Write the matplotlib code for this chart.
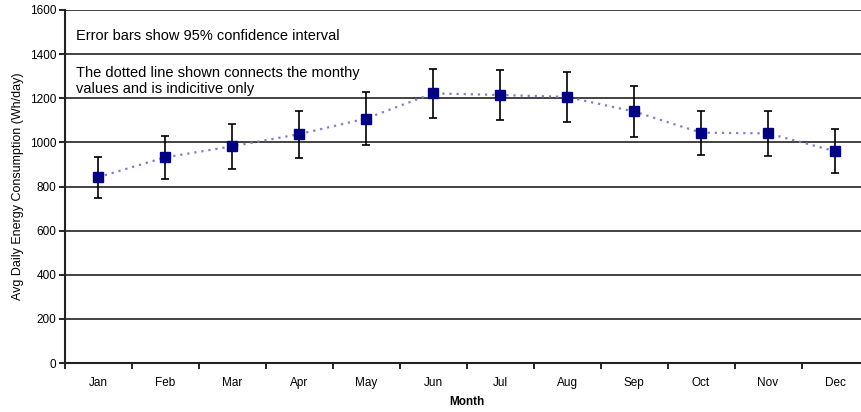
import matplotlib
matplotlib.use("Agg")
import matplotlib.pyplot as plt
import numpy as np

months = ["Jan", "Feb", "Mar", "Apr", "May", "Jun", "Jul", "Aug", "Sep", "Oct", "Nov", "Dec"]
values = [842, 932, 982, 1037, 1108, 1222, 1215, 1206, 1140, 1044, 1041, 960]
errors = [93, 96, 103, 106, 122, 111, 115, 114, 115, 99, 103, 100]
yticks = [0, 200, 400, 600, 800, 1000, 1200, 1400, 1600]

plt.rcParams['font.family'] = ['Liberation Sans', 'DejaVu Sans']

W, H = 861, 412
fig = plt.figure(figsize=(W / 100, H / 100), dpi=100)
left, right, top, bottom = 64.5, 868.5, 10, 363
ax = fig.add_axes([left / W, (H - bottom) / H, (right - left) / W, (bottom - top) / H])

x = np.arange(len(months))
ax.plot(x, values, linestyle=(0, (1, 2.2)), color="#7f7fc4", linewidth=1.6, zorder=2)
ax.errorbar(x, values, yerr=errors, fmt="none", ecolor="black", elinewidth=1.2,
            capsize=3.2, capthick=1.2, zorder=3)
ax.plot(x, values, linestyle="none", marker="s", markersize=7, color="#000080", zorder=4)

ax.set_xlim(-0.5, len(months) - 0.5)
ax.set_ylim(0, 1600)
ax.set_yticks(yticks)
ax.set_yticklabels([str(v) for v in yticks], fontsize=8.5)
ax.yaxis.grid(True, color="#222222", linewidth=1.2)
ax.set_axisbelow(True)

ax.set_xticks(np.arange(-0.5, len(months), 1.0))
ax.set_xticklabels([])
ax.set_xticks(x, minor=True)
ax.set_xticklabels(months, minor=True, fontsize=8.5)
ax.tick_params(axis="x", which="minor", length=0, pad=10)
ax.tick_params(axis="x", which="major", length=4, width=1.2, direction="out")
ax.tick_params(axis="y", length=4, width=1.2, direction="out", pad=2)

for s in ["top", "right"]:
    ax.spines[s].set_visible(False)
ax.spines["left"].set_linewidth(1.5)
ax.spines["bottom"].set_linewidth(1.5)
ax.spines["left"].set_color("#222222")
ax.spines["bottom"].set_color("#222222")

ax.set_xlabel("Month", fontsize=8.5, fontweight="bold", labelpad=5)
ax.set_ylabel("Avg Daily Energy Consumption (Wh/day)", fontsize=9, labelpad=4)

fig.text(76 / W, 1 - 36 / H, "Error bars show 95% confidence interval", fontsize=10.5,
         va="center", ha="left")
fig.text(76 / W, 1 - 81 / H, "The dotted line shown connects the monthy\nvalues and is indicitive only",
         fontsize=10.5, va="center", ha="left", linespacing=1.1)

fig.savefig("out.png", dpi=100)
